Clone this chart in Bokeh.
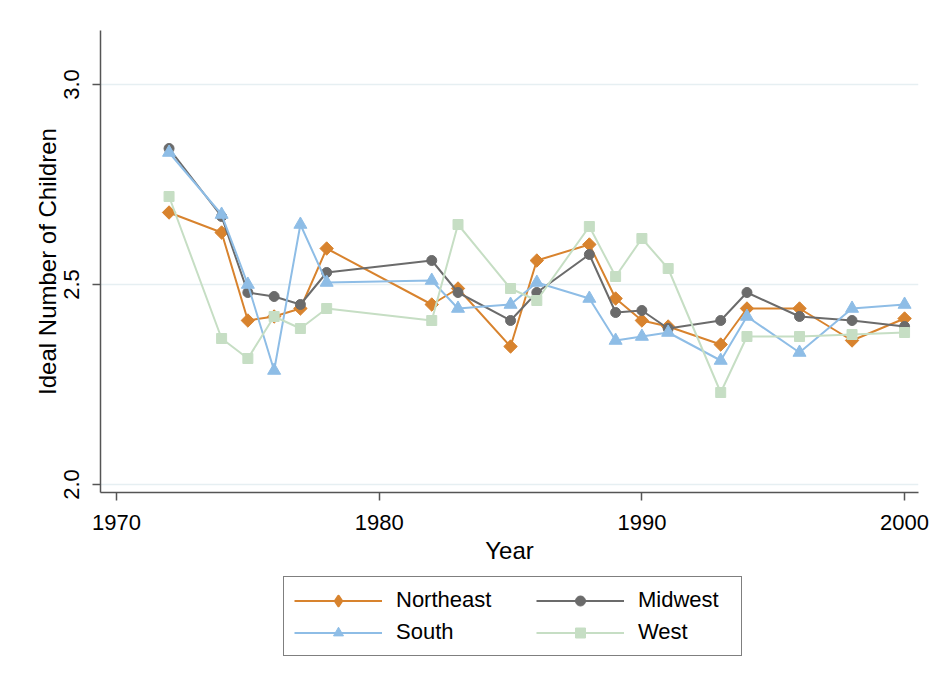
import numpy as np
from bokeh.plotting import figure
from bokeh.layouts import column
from bokeh.models import Range1d, Legend, LegendItem, FixedTicker
from bokeh.embed import file_html
from bokeh.resources import INLINE

years = [1972, 1974, 1975, 1976, 1977, 1978, 1982, 1983, 1985, 1986,
         1988, 1989, 1990, 1991, 1993, 1994, 1996, 1998, 2000]
northeast = [2.68, 2.63, 2.41, 2.42, 2.44, 2.59, 2.45, 2.49, 2.345, 2.56,
             2.60, 2.465, 2.41, 2.395, 2.35, 2.44, 2.44, 2.36, 2.415]
midwest = [2.84, 2.67, 2.48, 2.47, 2.45, 2.53, 2.56, 2.48, 2.41, 2.48,
           2.575, 2.43, 2.435, 2.39, 2.41, 2.48, 2.42, 2.41, 2.395]
south = [2.83, 2.675, 2.50, 2.285, 2.65, 2.505, 2.51, 2.44, 2.45, 2.505,
         2.465, 2.36, 2.37, 2.38, 2.31, 2.42, 2.33, 2.44, 2.45]
west = [2.72, 2.365, 2.315, 2.42, 2.39, 2.44, 2.41, 2.65, 2.49, 2.46,
        2.645, 2.52, 2.615, 2.54, 2.23, 2.37, 2.37, 2.375, 2.38]

series_names = ["Northeast", "Midwest", "South", "West"]
x_ticks = [1970, 1980, 1990, 2000]
y_ticks = [2.0, 2.5, 3.0]

FONT = "Liberation Sans"

p = figure(width=935, height=570, output_backend="svg", toolbar_location=None,
           x_range=Range1d(1969.39, 2000.53), y_range=Range1d(1.98, 3.135),
           min_border_left=100, min_border_right=17, min_border_top=30,
           min_border_bottom=78)
p.outline_line_color = None
p.background_fill_color = "white"
p.border_fill_color = "white"

p.xgrid.visible = False
p.ygrid.grid_line_color = "#E6EFF2"
p.ygrid.grid_line_width = 1.5

for ax in (p.xaxis[0], p.yaxis[0]):
    ax.axis_line_color = "#555555"
    ax.axis_line_width = 1.5
    ax.major_tick_line_color = "#555555"
    ax.major_tick_line_width = 1.5
    ax.major_tick_out = 8
    ax.major_tick_in = 0
    ax.minor_tick_out = 0
    ax.minor_tick_in = 0
    ax.major_label_text_font = FONT
    ax.major_label_text_font_size = "22px"
    ax.major_label_text_color = "black"
    ax.axis_label_text_font = FONT
    ax.axis_label_text_font_size = "24px"
    ax.axis_label_text_font_style = "normal"
    ax.axis_label_text_color = "black"

p.xaxis.ticker = FixedTicker(ticks=x_ticks)
p.yaxis.ticker = FixedTicker(ticks=y_ticks)
p.yaxis.major_label_overrides = {t: f"{t:.1f}" for t in y_ticks}
p.xaxis.axis_label = "Year"
p.yaxis.axis_label = "Ideal Number of Children"
p.yaxis.major_label_orientation = "vertical"
p.xaxis.major_label_standoff = 14
p.yaxis.major_label_standoff = 14
p.xaxis.axis_label_standoff = 4
p.yaxis.axis_label_standoff = 0

colors = ["#D8832E", "#6B6B6B", "#8EBDE6", "#C6DEC4"]
data = [northeast, midwest, south, west]
markers = ["square", "circle", "triangle", "square"]
sizes = [9.5, 10, 13, 10]
angles = [np.pi / 4, 0, 0, 0]
# legend keys (legend markers are drawn unrotated, so use a diamond there)
legend_markers = ["diamond", "circle", "triangle", "square"]
legend_marker_lw = [2.5, 1, 1, 1]

# legend strip below the plot (its ranges keep the series out of view,
# so only the legend entries are visible)
q = figure(width=935, height=113, output_backend="svg", toolbar_location=None,
           x_range=Range1d(0, 1), y_range=Range1d(0, 1),
           min_border_left=0, min_border_right=0, min_border_top=0,
           min_border_bottom=0)
q.axis.visible = False
q.grid.visible = False
q.outline_line_color = None
q.border_fill_color = "white"
q.background_fill_color = "white"

items = {}
for name, ys, c, m, s, a, lm, llw in zip(series_names, data, colors, markers,
                                         sizes, angles, legend_markers,
                                         legend_marker_lw):
    p.line(years, ys, line_color=c, line_width=2)
    p.scatter(years, ys, marker=m, size=s, angle=a, fill_color=c, line_color=c)
    dl = q.line(years, ys, line_color=c, line_width=1.8)
    ds = q.scatter(years, ys, marker=lm, size=s, fill_color=c, line_color=c,
                   line_width=llw, line_join="round")
    items[name] = LegendItem(label=name, renderers=[dl, ds])


def make_legend(names, loc, label_width, border):
    lg = Legend(items=[items[n] for n in names], orientation="vertical",
                location=loc)
    lg.label_text_font = FONT
    lg.label_text_font_size = "22px"
    lg.label_text_color = "black"
    lg.glyph_width = 88
    lg.glyph_height = 25
    lg.label_height = 22
    lg.label_width = label_width
    lg.label_standoff = 14
    lg.spacing = 6
    lg.padding = 10
    if border:
        lg.border_line_color = "black"
        lg.border_line_width = 1.5
        lg.background_fill_color = "white"
        lg.background_fill_alpha = 1
    else:
        lg.border_line_color = None
        lg.background_fill_alpha = 0
    return lg


q.add_layout(make_legend(["Northeast", "South"], (183, 27), 335, True), "center")
q.add_layout(make_legend(["Midwest", "West"], (436, 38), 90, False), "center")

layout = column(p, q, spacing=0)
open("out.html", "w").write(file_html(layout, INLINE))
